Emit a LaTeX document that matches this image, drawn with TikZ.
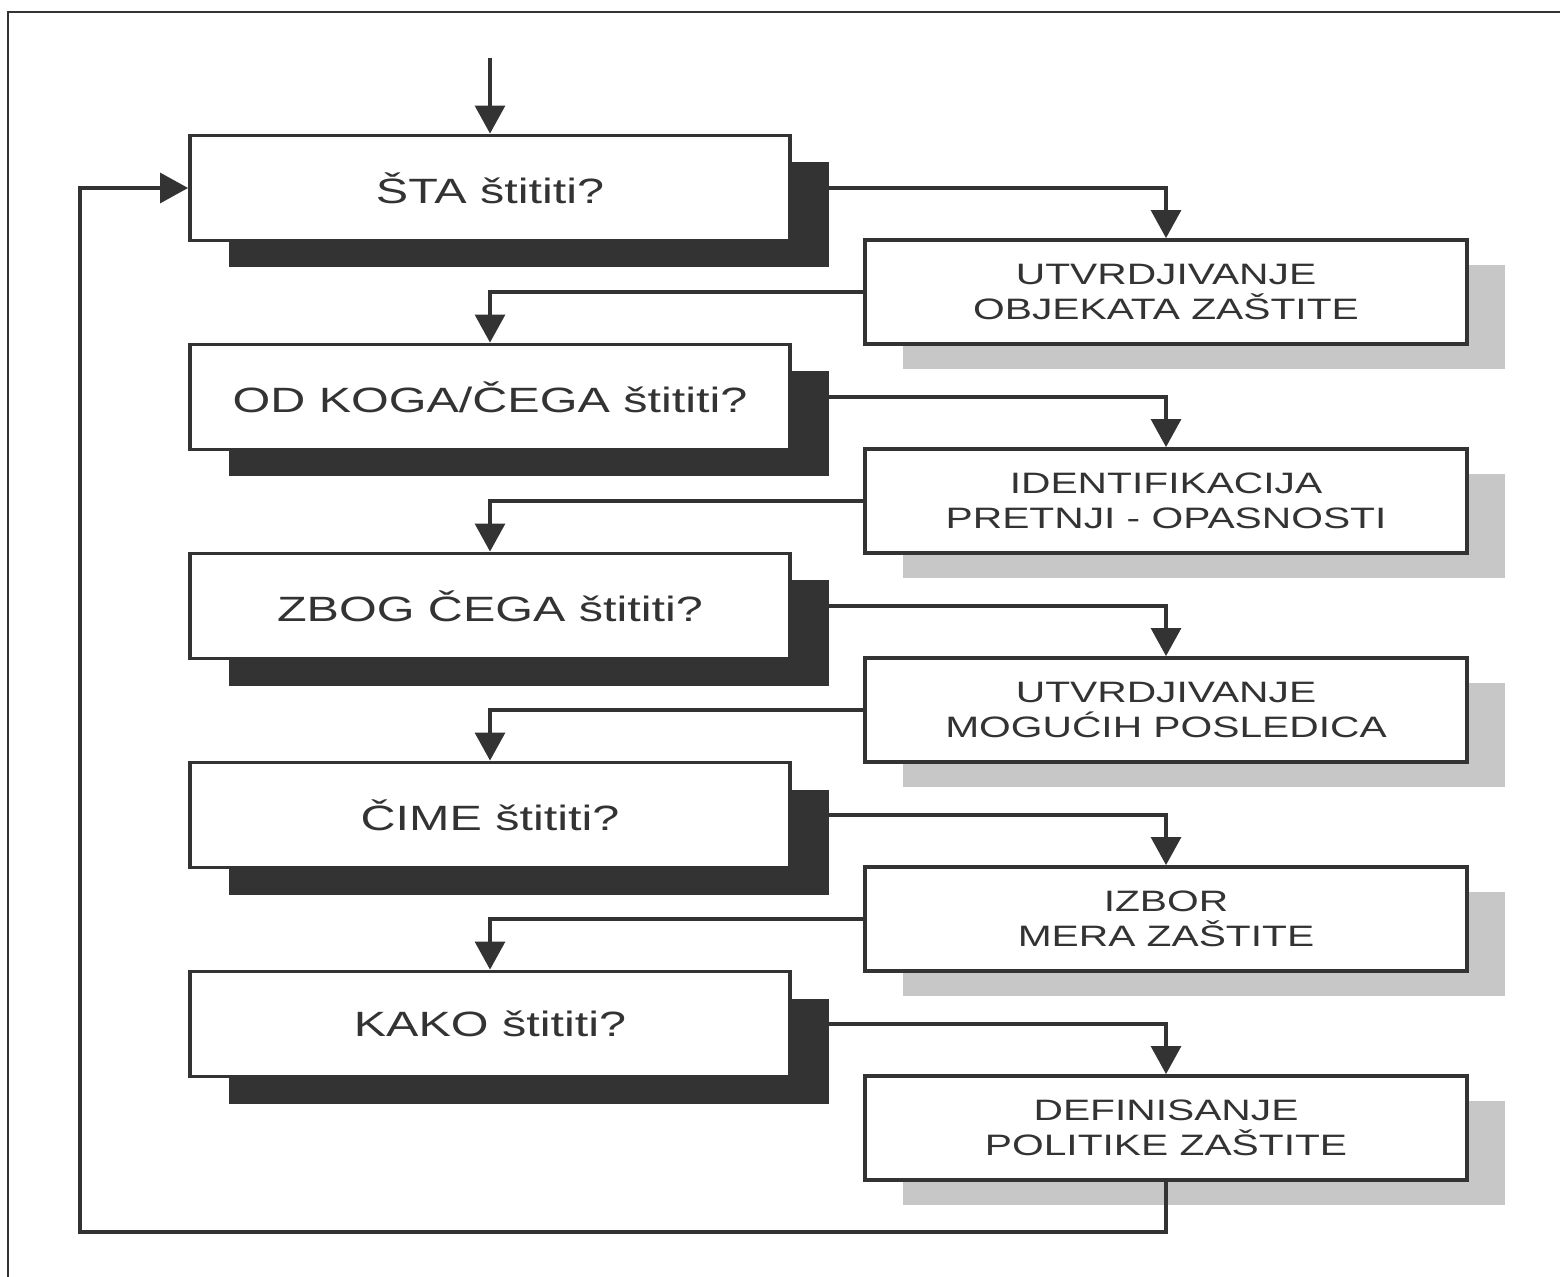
\documentclass[tikz,border=0pt]{standalone}
\usepackage{fontspec}
\newfontfamily\boxfont[FakeStretch=1.38]{Liberation Sans}
\usepackage{tikz}
\usetikzlibrary{arrows.meta,shadows,backgrounds}
\definecolor{ink}{gray}{0.2}

\begin{document}
\begin{tikzpicture}[
    question/.style={draw=ink, line width=1.1pt, fill=white, text=ink,
        minimum width=6cm, minimum height=1.05cm,
        font=\boxfont\fontsize{10}{12}\selectfont,
        drop shadow={shadow xshift=0.39cm, shadow yshift=-0.27cm, fill=ink, opacity=1}},
    answer/.style={draw=ink, line width=1.1pt, fill=white, text=ink, align=center,
        minimum width=6.02cm, minimum height=1.04cm,
        font=\boxfont\fontsize{8.4}{9.8}\selectfont,
        drop shadow={shadow xshift=0.38cm, shadow yshift=-0.25cm, fill=black!22, opacity=1}},
    flow/.style={draw=ink, line width=0.9pt, -{Triangle[length=0.28cm, width=0.3cm]}}]
\useasboundingbox (0,0) rectangle (15.6,-12.77);
\draw[ink, line width=0.8pt] (0.08,-12.77) -- (0.08,-0.12) -- (15.6,-0.12);

\foreach \i/\q/\a in {1/{ŠTA štititi?}/{UTVRDJIVANJE\\OBJEKATA ZAŠTITE},
    2/{OD KOGA/ČEGA štititi?}/{IDENTIFIKACIJA\\PRETNJI - OPASNOSTI},
    3/{ZBOG ČEGA štititi?}/{UTVRDJIVANJE\\MOGUĆIH POSLEDICA},
    4/{ČIME štititi?}/{IZBOR\\MERA ZAŠTITE},
    5/{KAKO štititi?}/{DEFINISANJE\\POLITIKE ZAŠTITE}} {
  \node[question] (q\i) at (4.9,{-1.88-2.09*(\i-1)}) {\q};
  \node[answer] (a\i) at (11.66,{-2.92-2.09*(\i-1)}) {\a};
}

\coordinate (start) at (4.9,-0.58);
\coordinate (loop) at (0.8,-12.32);

\begin{scope}[on background layer]
\foreach \i in {1,...,5}
  \draw[flow] (q\i.east) -| (a\i.north);
\foreach \i/\j in {1/2,2/3,3/4,4/5}
  \draw[flow] (a\i.west) -| (q\j.north);
\end{scope}

\draw[flow] (start) -- (q1.north);
\draw[flow] (a5.south) |- (loop) |- (q1.west);
\end{tikzpicture}
\end{document}
